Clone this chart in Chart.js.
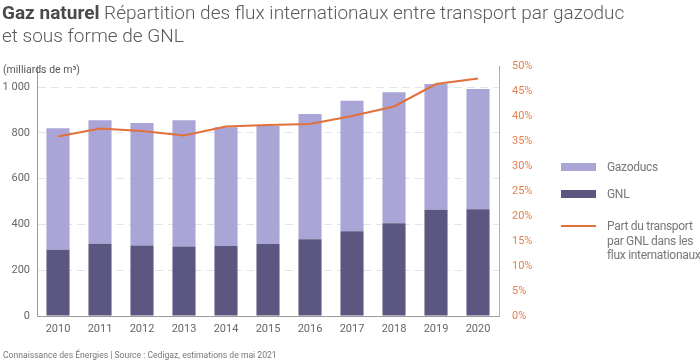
<!DOCTYPE html>
<html>
<head>
<meta charset="utf-8">
<script src="https://cdn.jsdelivr.net/npm/chart.js@4.4.0/dist/chart.umd.min.js"></script>
<style>
  body { margin: 0; background: #fff; font-family: Roboto, sans-serif; }
  #wrap { position: relative; width: 700px; height: 362px; overflow: hidden; }
  #chart { position: absolute; left: 0; top: 0; }
  .title { position: absolute; left: 2px; top: 1px; font-size: 19px; line-height: 23px; color: #5a5a5a; font-weight: 300; white-space: nowrap; }
  .title b { font-weight: 700; color: #4a4a4a; }
  .unit { position: absolute; left: 3px; top: 63px; font-size: 10.5px; color: #555; white-space: nowrap; }
  .legend { position: absolute; left: 561px; top: 160px; font-size: 12px; letter-spacing: -0.3px; color: #777; }
  .swatch { position: absolute; left: 0; width: 35px; }
  .lbl { position: absolute; left: 46px; line-height: 14.5px; white-space: nowrap; }
  .footer { position: absolute; left: 3px; top: 350px; font-size: 8.6px; color: #777; white-space: nowrap; }
</style>
</head>
<body>
<div id="wrap">
  <canvas id="chart" width="700" height="362"></canvas>
  <div class="title"><b>Gaz naturel</b> Répartition des flux internationaux entre transport par gazoduc<br>et sous forme de GNL</div>
  <div class="unit">(milliards de m³)</div>
  <div class="legend">
    <div class="swatch" style="top:3px;height:8px;background:#a9a5d6"></div>
    <div class="lbl" style="top:0px">Gazoducs</div>
    <div class="swatch" style="top:30px;height:8px;background:#5b5780"></div>
    <div class="lbl" style="top:27px">GNL</div>
    <div class="swatch" style="top:65px;height:2px;background:#e2703a"></div>
    <div class="lbl" style="top:59px">Part du transport<br>par GNL dans les<br>flux internationaux</div>
  </div>
  <div class="footer">Connaissance des Énergies | Source : Cedigaz, estimations de mai 2021</div>
</div>
<script>
// categories
const years = ["2010", "2011", "2012", "2013", "2014", "2015", "2016", "2017", "2018", "2019", "2020"];

// series (milliards de m3)
const gnl = [289, 316, 308, 304, 306, 314, 335, 370, 405, 464, 466];
const gazoducs = [531, 539, 535, 551, 518, 516, 547, 570, 572, 549, 525];

// part du GNL (%)
const partGnl = [35.9, 37.5, 37.0, 36.1, 37.9, 38.2, 38.4, 40.0, 41.9, 46.4, 47.5];

// axis ticks
const leftTicks = [0, 200, 400, 600, 800, 1000];
const rightTicks = [0, 5, 10, 15, 20, 25, 30, 35, 40, 45, 50];

const ctx = document.getElementById("chart");

new Chart(ctx, {
    type: "bar",
    data: {
        labels: years,
        datasets: [
            {
                type: "line",
                label: "Part du transport par GNL dans les flux internationaux",
                data: partGnl,
                yAxisID: "y1",
                borderColor: "#e2703a",
                borderWidth: 2,
                pointRadius: 0,
                tension: 0,
                fill: false
            },
            {
                label: "GNL",
                data: gnl,
                backgroundColor: "#5b5780",
                yAxisID: "y",
                categoryPercentage: 1,
                barPercentage: 0.55
            },
            {
                label: "Gazoducs",
                data: gazoducs,
                backgroundColor: "#a9a5d6",
                yAxisID: "y",
                categoryPercentage: 1,
                barPercentage: 0.55
            }
        ]
    },
    options: {
        responsive: false,
        animation: false,
        layout: { padding: { left: 0, right: 141, top: 66, bottom: 16 } },
        plugins: {
            legend: { display: false },
            tooltip: { enabled: false }
        },
        scales: {
            x: {
                stacked: true,
                grid: { display: false, drawTicks: false },
                border: { color: "#9a9a9a", width: 1 },
                ticks: { color: "#666", font: { family: "Roboto", size: 11 }, padding: 7, maxRotation: 0 },
                afterFit: s => { s.height = 30; }
            },
            y: {
                stacked: true,
                position: "left",
                min: 0,
                max: 1092,
                afterBuildTicks: s => { s.ticks = leftTicks.map(v => ({ value: v })); },
                ticks: {
                    includeBounds: false,
                    color: "#666",
                    font: { family: "Roboto", size: 11 },
                    padding: 7,
                    callback: v => v >= 1000 ? "1 000" : String(v)
                },
                grid: { color: "#e4e4e4", drawTicks: false },
                border: { color: "#9a9a9a", width: 1, dash: [8, 5] },
                afterFit: s => { s.width = 37; }
            },
            y1: {
                position: "right",
                min: 0,
                max: 50,
                afterBuildTicks: s => { s.ticks = rightTicks.map(v => ({ value: v })); },
                ticks: {
                    color: "#e3814c",
                    font: { family: "Roboto", size: 11 },
                    padding: 13,
                    callback: v => v + "%"
                },
                grid: { display: false, drawTicks: false },
                border: { color: "#e9a07a", width: 1 },
                afterFit: s => { s.width = 60; }
            }
        }
    }
});
</script>
</body>
</html>
